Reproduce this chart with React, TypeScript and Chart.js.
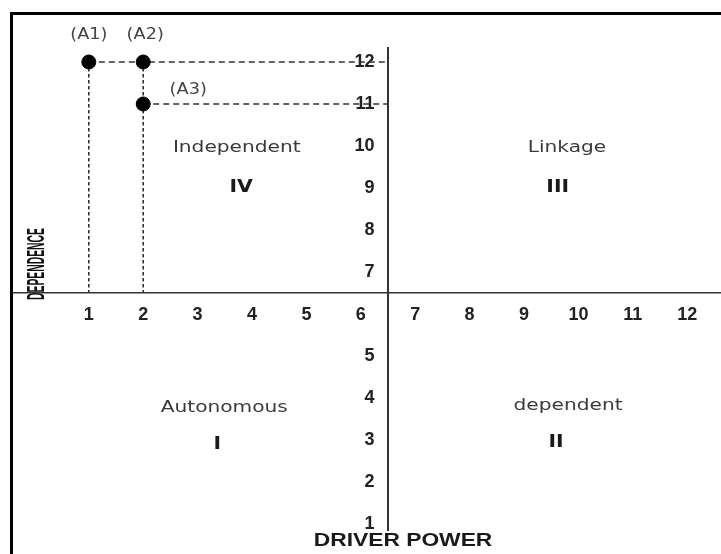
import React, { useEffect, useRef } from 'react';
import { Chart, registerables } from 'chart.js';

Chart.register(...registerables);

// ---- data ----
const X_TICKS = [1, 2, 3, 4, 5, 6, 7, 8, 9, 10, 11, 12];
// "6" is shared with the horizontal axis label, so it is printed once
const Y_TICKS = [1, 2, 3, 4, 5, 7, 8, 9, 10, 11, 12];
const POINT_LABELS = ['(A1)', '(A2)', '(A3)'];
const DEPENDENCE = [1, 2, 2]; // horizontal
const DRIVER_POWER = [12, 12, 11]; // vertical
const QUADRANT_NAMES = ['Independent', 'Linkage', 'Autonomous', 'dependent'];
const QUADRANT_NUMERALS = ['IV', 'III', 'I', 'II'];
const AXIS_CROSS = 6.5;

// ---- layout / style ----
const X_MIN = -0.412;
const X_MAX = 12.603;
const Y_MIN = 0.857;
const Y_MAX = 12.333;
const Y_LABEL_ANCHOR = 6.25; // right edge of the vertical-axis labels
const QUADRANT_NAME_POS = [
  [3.72, 9.95],
  [9.79, 9.95],
  [3.49, 3.76],
  [9.81, 3.81],
];
const QUADRANT_NUM_POS = [
  [3.8, 9.02],
  [9.62, 9.02],
  [3.36, 2.88],
  [9.59, 2.93],
];
const POINT_LABEL_OFFSETS = [
  [0, -27],
  [2, -27],
  [45, -14],
];

function drawText(
  ctx: CanvasRenderingContext2D,
  text: string,
  x: number,
  y: number,
  font: string,
  color: string,
  sx = 1,
  rot = 0
) {
  ctx.save();
  ctx.translate(x, y);
  if (rot) ctx.rotate(rot);
  ctx.scale(sx, 1);
  ctx.font = font;
  ctx.fillStyle = color;
  ctx.textAlign = 'center';
  ctx.textBaseline = 'middle';
  ctx.fillText(text, 0, 0);
  ctx.restore();
}

const textPlugin = {
  id: 'micmacText',
  afterDraw(chart: any) {
    const { ctx, chartArea } = chart;
    const xs = chart.scales.x;
    const ys = chart.scales.y;
    const meta = chart.getDatasetMeta(0);
    meta.data.forEach((pt: any, i: number) => {
      const off = POINT_LABEL_OFFSETS[i];
      drawText(ctx, POINT_LABELS[i], pt.x + off[0], pt.y + off[1], '15px "DejaVu Sans"', '#444', 1.18);
    });
    QUADRANT_NAMES.forEach((name, i) => {
      const p = QUADRANT_NAME_POS[i];
      drawText(ctx, name, xs.getPixelForValue(p[0]), ys.getPixelForValue(p[1]), '16px "DejaVu Sans"', '#3a3a3a', 1.26);
    });
    QUADRANT_NUMERALS.forEach((name, i) => {
      const p = QUADRANT_NUM_POS[i];
      drawText(ctx, name, xs.getPixelForValue(p[0]), ys.getPixelForValue(p[1]), 'bold 17px "DejaVu Sans"', '#1a1a1a', 1.2);
    });
    const axisX = xs.getPixelForValue(AXIS_CROSS);
    const axisY = ys.getPixelForValue(AXIS_CROSS);
    drawText(ctx, 'DRIVER POWER', axisX + 15, chartArea.bottom + 11, 'bold 19px "Liberation Sans"', '#1a1a1a', 1.2);
    drawText(ctx, 'DEPENDENCE', chartArea.left + 26, axisY - 29, 'bold 23px "Liberation Sans"', '#111', 0.45, -Math.PI / 2);
  },
};

function buildGuides() {
  const pts = DEPENDENCE.map((x, i) => ({ x, y: DRIVER_POWER[i] }));
  const horiz: any[] = [];
  const vert: any[] = [];
  Array.from(new Set(pts.map((p) => p.y))).forEach((yv) => {
    const minX = Math.min(...pts.filter((p) => p.y === yv).map((p) => p.x));
    horiz.push([{ x: minX, y: yv }, { x: AXIS_CROSS, y: yv }]);
  });
  Array.from(new Set(pts.map((p) => p.x))).forEach((xv) => {
    const maxY = Math.max(...pts.filter((p) => p.x === xv).map((p) => p.y));
    vert.push([{ x: xv, y: maxY }, { x: xv, y: AXIS_CROSS }]);
  });
  return { pts, horiz, vert };
}

export default function App() {
  const ref = useRef<HTMLCanvasElement>(null);
  useEffect(() => {
    const { pts, horiz, vert } = buildGuides();
    const tickFont = { family: '"Liberation Sans", Arial', size: 18, weight: 'bold' as const };
    const datasets: any[] = [
      {
        data: pts,
        backgroundColor: '#000',
        borderColor: '#000',
        pointRadius: 7,
        pointHoverRadius: 7,
      },
      ...horiz.map((d) => ({
        data: d,
        showLine: true,
        pointRadius: 0,
        borderColor: '#333',
        borderWidth: 1.6,
        borderDash: [6, 4],
        fill: false,
      })),
      ...vert.map((d) => ({
        data: d,
        showLine: true,
        pointRadius: 0,
        borderColor: '#333',
        borderWidth: 1.6,
        borderDash: [3.5, 2.5],
        fill: false,
      })),
    ];
    const chart = new Chart(ref.current as HTMLCanvasElement, {
      type: 'scatter',
      data: { datasets },
      options: {
        animation: false,
        responsive: false,
        maintainAspectRatio: false,
        devicePixelRatio: 1,
        layout: { padding: { left: 12, right: 1, top: 48, bottom: 24 } },
        plugins: { legend: { display: false }, tooltip: { enabled: false } },
        events: [],
        scales: {
          x: {
            type: 'linear',
            min: X_MIN,
            max: X_MAX,
            position: { y: AXIS_CROSS } as any,
            grid: { display: false, drawTicks: false },
            border: { display: true, color: '#333', width: 1.5 },
            afterBuildTicks: (s: any) => {
              s.ticks = X_TICKS.map((v) => ({ value: v }));
            },
            ticks: { font: tickFont, color: '#222', padding: 11, autoSkip: false, maxRotation: 0 },
          },
          y: {
            type: 'linear',
            min: Y_MIN,
            max: Y_MAX,
            position: { x: AXIS_CROSS } as any,
            grid: { display: false, drawTicks: false },
            border: { display: true, color: '#333', width: 2 },
            ticks: { display: false },
          },
          yLabels: {
            axis: 'y',
            type: 'linear',
            min: Y_MIN,
            max: Y_MAX,
            z: 1,
            position: { x: Y_LABEL_ANCHOR } as any,
            grid: { display: false, drawTicks: false },
            border: { display: false },
            afterBuildTicks: (s: any) => {
              s.ticks = Y_TICKS.map((v) => ({ value: v }));
            },
            ticks: { font: tickFont, color: '#222', padding: 0, autoSkip: false },
          },
        },
      },
      plugins: [textPlugin],
    } as any);
    return () => chart.destroy();
  }, []);
  return (
    <div style={{ position: 'fixed', left: 0, top: 0, width: 721, height: 554, background: '#fff', overflow: 'hidden' }}>
      <canvas ref={ref} width={728} height={554} style={{ position: 'absolute', left: 0, top: 0, width: 728, height: 554 }} />
      <div
        style={{
          position: 'absolute',
          left: 10,
          top: 12,
          right: -5,
          bottom: -5,
          borderTop: '3px solid #000',
          borderLeft: '3px solid #000',
          pointerEvents: 'none',
        }}
      />
    </div>
  );
}
